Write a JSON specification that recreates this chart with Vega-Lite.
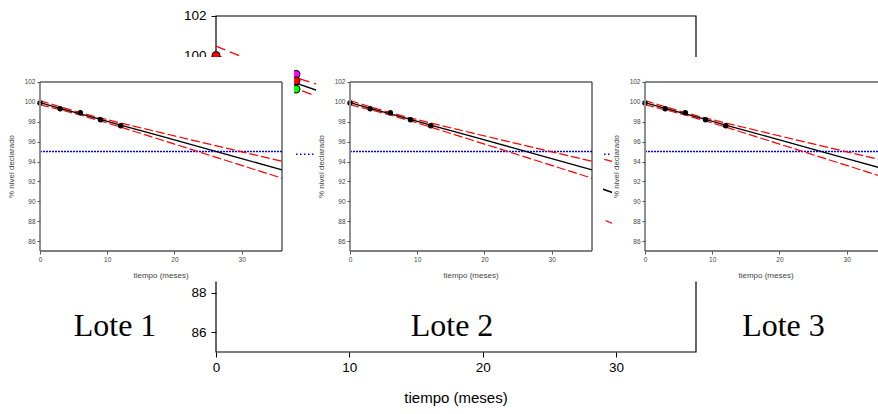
{
  "$schema": "https://vega.github.io/schema/vega-lite/v6.json",
  "width": 878,
  "height": 414,
  "padding": 0,
  "autosize": {"type": "none"},
  "background": "white",
  "config": {
    "view": {"stroke": null},
    "axis": {"grid": false, "domain": false, "labelFont": "Liberation Sans", "labelFlush": false, "labelOverlap": false},
    "text": {"font": "Liberation Sans"}
  },
  "datasets": {
    "pts": [
      {"t": 0, "v": 99.9}, {"t": 3, "v": 99.3}, {"t": 6, "v": 98.9}, {"t": 9, "v": 98.2}, {"t": 12, "v": 97.6}
    ],
    "fit": [
      {"t": 0, "fit": 99.92, "hi": 100.126, "lo": 99.714},
      {"t": 3, "fit": 99.358, "hi": 99.504, "lo": 99.212},
      {"t": 6, "fit": 98.795, "hi": 98.914, "lo": 98.676},
      {"t": 9, "fit": 98.233, "hi": 98.379, "lo": 98.087},
      {"t": 12, "fit": 97.67, "hi": 97.876, "lo": 97.464},
      {"t": 18, "fit": 96.545, "hi": 96.902, "lo": 96.188},
      {"t": 24, "fit": 95.42, "hi": 95.939, "lo": 94.901},
      {"t": 30, "fit": 94.295, "hi": 94.979, "lo": 93.611},
      {"t": 36, "fit": 93.17, "hi": 94.02, "lo": 92.32}
    ],
    "bgpts": [
      {"lote": "Lote 1", "t": 0, "v": 99.5}, {"lote": "Lote 1", "t": 3, "v": 99.4}, {"lote": "Lote 1", "t": 6, "v": 99.05}, {"lote": "Lote 1", "t": 9, "v": 98.1}, {"lote": "Lote 1", "t": 12, "v": 97.4},
      {"lote": "Lote 3", "t": 0, "v": 99.6}, {"lote": "Lote 3", "t": 3, "v": 99.1}, {"lote": "Lote 3", "t": 6, "v": 98.3}, {"lote": "Lote 3", "t": 9, "v": 97.6}, {"lote": "Lote 3", "t": 12, "v": 97.2},
      {"lote": "Lote 2", "t": 0, "v": 100.0}, {"lote": "Lote 2", "t": 3, "v": 99.2}, {"lote": "Lote 2", "t": 6, "v": 98.72}, {"lote": "Lote 2", "t": 9, "v": 98.0}, {"lote": "Lote 2", "t": 12, "v": 97.0}
    ],
    "bgfit": [
      {"t": 0, "fit": 100.0, "hi": 100.479, "lo": 99.522},
      {"t": 3, "fit": 99.301, "hi": 99.639, "lo": 98.963},
      {"t": 6, "fit": 98.602, "hi": 98.878, "lo": 98.326},
      {"t": 9, "fit": 97.903, "hi": 98.241, "lo": 97.565},
      {"t": 12, "fit": 97.204, "hi": 97.683, "lo": 96.726},
      {"t": 18, "fit": 95.806, "hi": 96.635, "lo": 94.977},
      {"t": 24, "fit": 94.408, "hi": 95.612, "lo": 93.204},
      {"t": 30, "fit": 93.01, "hi": 94.597, "lo": 91.423},
      {"t": 36, "fit": 91.612, "hi": 93.585, "lo": 89.639}
    ]
  },
  "layer": [
    {
      "layer": [
        {"data": {"values": [{}]}, "mark": {"type": "rect", "filled": false, "color": "#000", "strokeWidth": 1.2},
         "encoding": {"x": {"datum": 0, "type": "quantitative"}, "x2": {"datum": 36}, "y": {"datum": 102, "type": "quantitative"}, "y2": {"datum": 85}}},
        {"data": {"values": [{}]}, "mark": {"type": "rule", "color": "#0000ff", "strokeDash": [1.5, 2.5], "strokeWidth": 1.5},
         "encoding": {"x": {"datum": 0, "type": "quantitative"}, "x2": {"datum": 36}, "y": {"datum": 95, "type": "quantitative"}}},
        {"data": {"name": "bgfit"}, "mark": {"type": "line", "color": "#ff0000", "strokeDash": [10, 5], "strokeWidth": 1.3},
         "encoding": {"x": {"field": "t", "type": "quantitative"}, "y": {"field": "hi", "type": "quantitative"}}},
        {"data": {"name": "bgfit"}, "mark": {"type": "line", "color": "#ff0000", "strokeDash": [10, 5], "strokeWidth": 1.3},
         "encoding": {"x": {"field": "t", "type": "quantitative"}, "y": {"field": "lo", "type": "quantitative"}}},
        {"data": {"name": "bgfit"}, "mark": {"type": "line", "color": "#000", "strokeWidth": 1.5},
         "encoding": {"x": {"field": "t", "type": "quantitative"}, "y": {"field": "fit", "type": "quantitative"}}},
        {"data": {"name": "bgpts"}, "mark": {"type": "circle", "size": 64, "stroke": "#000", "strokeWidth": 1, "opacity": 1},
         "encoding": {
           "x": {"field": "t", "type": "quantitative", "scale": {"domain": [-16.2, 49.65], "nice": false, "zero": false},
                 "axis": {"orient": "bottom", "offset": -62, "values": [0, 10, 20, 30], "title": null, "tickSize": 5, "tickColor": "#000", "labelFontSize": 13.5, "labelColor": "#000", "labelPadding": 3, "zindex": 0}},
           "y": {"field": "v", "type": "quantitative", "scale": {"domain": [81.8631, 102.8095], "nice": false, "zero": false},
                 "axis": {"orient": "left", "offset": -216, "values": [86, 88, 90, 92, 94, 96, 98, 100, 102], "title": null, "tickSize": 5, "tickColor": "#000", "labelFontSize": 13.5, "labelColor": "#000", "labelPadding": 5, "zindex": 0}},
           "color": {"field": "lote", "type": "nominal", "sort": null, "scale": {"domain": ["Lote 1", "Lote 3", "Lote 2"], "range": ["#ff00ff", "#00ff00", "#ff0000"]}, "legend": null}}},
        {"data": {"values": [{}]}, "mark": {"type": "text", "text": "tiempo (meses)", "fontSize": 15, "color": "#000"},
         "encoding": {"x": {"datum": 18, "type": "quantitative"}, "y": {"datum": 82.673, "type": "quantitative"}}},
        {"data": {"values": [{}]}, "mark": {"type": "text", "text": "Lote 1", "font": "Liberation Serif", "fontSize": 32, "baseline": "alphabetic", "color": "#000"},
         "encoding": {"x": {"datum": -7.575, "type": "quantitative"}, "y": {"datum": 85.81, "type": "quantitative"}}},
        {"data": {"values": [{}]}, "mark": {"type": "text", "text": "Lote 2", "font": "Liberation Serif", "fontSize": 32, "baseline": "alphabetic", "color": "#000"},
         "encoding": {"x": {"datum": 17.7, "type": "quantitative"}, "y": {"datum": 85.81, "type": "quantitative"}}},
        {"data": {"values": [{}]}, "mark": {"type": "text", "text": "Lote 3", "font": "Liberation Serif", "fontSize": 32, "baseline": "alphabetic", "color": "#000"},
         "encoding": {"x": {"datum": 42.56, "type": "quantitative"}, "y": {"datum": 85.81, "type": "quantitative"}}}
      ]
    },
    {
      "layer": [
        {"data": {"values": [{}]}, "mark": {"type": "rect", "color": "white", "opacity": 1},
         "encoding": {"x": {"datum": -6, "type": "quantitative"}, "x2": {"datum": 37.8}, "y": {"datum": 104.515, "type": "quantitative"}, "y2": {"datum": 81.932}}},
        {"data": {"values": [{}]}, "mark": {"type": "rule", "color": "#0000ff", "strokeDash": [2, 1], "strokeWidth": 1.5},
         "encoding": {"x": {"datum": 0, "type": "quantitative"}, "x2": {"datum": 36}, "y": {"datum": 95, "type": "quantitative"}}},
        {"data": {"name": "fit"}, "mark": {"type": "line", "color": "#ff0000", "strokeDash": [9, 3], "strokeWidth": 1.2},
         "encoding": {"x": {"field": "t", "type": "quantitative"}, "y": {"field": "hi", "type": "quantitative"}}},
        {"data": {"name": "fit"}, "mark": {"type": "line", "color": "#ff0000", "strokeDash": [9, 3], "strokeWidth": 1.2},
         "encoding": {"x": {"field": "t", "type": "quantitative"}, "y": {"field": "lo", "type": "quantitative"}}},
        {"data": {"name": "fit"}, "mark": {"type": "line", "color": "#000", "strokeWidth": 1.3},
         "encoding": {"x": {"field": "t", "type": "quantitative"}, "y": {"field": "fit", "type": "quantitative"}}},
        {"data": {"name": "pts"}, "mark": {"type": "circle", "size": 30, "color": "#000", "opacity": 1},
         "encoding": {
           "x": {"field": "t", "type": "quantitative", "scale": {"domain": [-5.9504, 124.661], "nice": false, "zero": false},
                 "axis": {"orient": "bottom", "offset": -163, "values": [0, 10, 20, 30], "title": null, "tickSize": 3, "tickColor": "#555", "labelFontSize": 6.5, "labelColor": "#444", "labelPadding": 2, "zindex": 1}},
           "y": {"field": "v", "type": "quantitative", "scale": {"domain": [68.6036, 110.2485], "nice": false, "zero": false},
                 "axis": {"orient": "left", "offset": -40, "values": [86, 88, 90, 92, 94, 96, 98, 100, 102], "title": null, "tickSize": 3, "tickColor": "#555", "labelFontSize": 6.5, "labelColor": "#444", "labelPadding": 2, "zindex": 1}}}},
        {"data": {"values": [{}]}, "mark": {"type": "rule", "color": "#111", "strokeWidth": 1},
         "encoding": {"x": {"datum": 0, "type": "quantitative"}, "x2": {"datum": 36}, "y": {"datum": 102, "type": "quantitative"}}},
        {"data": {"values": [{}]}, "mark": {"type": "rule", "color": "#111", "strokeWidth": 1},
         "encoding": {"x": {"datum": 36, "type": "quantitative"}, "y": {"datum": 85, "type": "quantitative"}, "y2": {"datum": 102}}},
        {"data": {"values": [{}]}, "mark": {"type": "rule", "color": "#909090", "strokeWidth": 2},
         "encoding": {"x": {"datum": 0, "type": "quantitative"}, "y": {"datum": 85, "type": "quantitative"}, "y2": {"datum": 102}}},
        {"data": {"values": [{}]}, "mark": {"type": "rule", "color": "#555", "strokeWidth": 1.5},
         "encoding": {"x": {"datum": 0, "type": "quantitative"}, "x2": {"datum": 36}, "y": {"datum": 85, "type": "quantitative"}}},
        {"data": {"values": [{}]}, "mark": {"type": "text", "text": "tiempo (meses)", "fontSize": 8, "color": "#444"},
         "encoding": {"x": {"datum": 18, "type": "quantitative"}, "y": {"datum": 82.485, "type": "quantitative"}}},
        {"data": {"values": [{}]}, "mark": {"type": "text", "text": "% nivel declarado", "fontSize": 8, "angle": 270, "color": "#444"},
         "encoding": {"x": {"datum": -4.13, "type": "quantitative"}, "y": {"datum": 93.5, "type": "quantitative"}}}
      ]
    },
    {
      "layer": [
        {"data": {"values": [{}]}, "mark": {"type": "rect", "color": "white", "opacity": 1},
         "encoding": {"x": {"datum": -5.06, "type": "quantitative"}, "x2": {"datum": 37.64}, "y": {"datum": 104.515, "type": "quantitative"}, "y2": {"datum": 81.932}}},
        {"data": {"values": [{}]}, "mark": {"type": "rule", "color": "#0000ff", "strokeDash": [2, 1], "strokeWidth": 1.5},
         "encoding": {"x": {"datum": 0, "type": "quantitative"}, "x2": {"datum": 36}, "y": {"datum": 95, "type": "quantitative"}}},
        {"data": {"name": "fit"}, "mark": {"type": "line", "color": "#ff0000", "strokeDash": [9, 3], "strokeWidth": 1.2},
         "encoding": {"x": {"field": "t", "type": "quantitative"}, "y": {"field": "hi", "type": "quantitative"}}},
        {"data": {"name": "fit"}, "mark": {"type": "line", "color": "#ff0000", "strokeDash": [9, 3], "strokeWidth": 1.2},
         "encoding": {"x": {"field": "t", "type": "quantitative"}, "y": {"field": "lo", "type": "quantitative"}}},
        {"data": {"name": "fit"}, "mark": {"type": "line", "color": "#000", "strokeWidth": 1.3},
         "encoding": {"x": {"field": "t", "type": "quantitative"}, "y": {"field": "fit", "type": "quantitative"}}},
        {"data": {"name": "pts"}, "mark": {"type": "circle", "size": 30, "color": "#000", "opacity": 1},
         "encoding": {
           "x": {"field": "t", "type": "quantitative", "scale": {"domain": [-52.066, 78.5454], "nice": false, "zero": false},
                 "axis": {"orient": "bottom", "offset": -163, "values": [0, 10, 20, 30], "title": null, "tickSize": 3, "tickColor": "#555", "labelFontSize": 6.5, "labelColor": "#444", "labelPadding": 2, "zindex": 1}},
           "y": {"field": "v", "type": "quantitative", "scale": {"domain": [68.6036, 110.2485], "nice": false, "zero": false},
                 "axis": {"orient": "left", "offset": -350, "values": [86, 88, 90, 92, 94, 96, 98, 100, 102], "title": null, "tickSize": 3, "tickColor": "#555", "labelFontSize": 6.5, "labelColor": "#444", "labelPadding": 2, "zindex": 1}}}},
        {"data": {"values": [{}]}, "mark": {"type": "rule", "color": "#111", "strokeWidth": 1},
         "encoding": {"x": {"datum": 0, "type": "quantitative"}, "x2": {"datum": 36}, "y": {"datum": 102, "type": "quantitative"}}},
        {"data": {"values": [{}]}, "mark": {"type": "rule", "color": "#111", "strokeWidth": 1},
         "encoding": {"x": {"datum": 36, "type": "quantitative"}, "y": {"datum": 85, "type": "quantitative"}, "y2": {"datum": 102}}},
        {"data": {"values": [{}]}, "mark": {"type": "rule", "color": "#909090", "strokeWidth": 2},
         "encoding": {"x": {"datum": 0, "type": "quantitative"}, "y": {"datum": 85, "type": "quantitative"}, "y2": {"datum": 102}}},
        {"data": {"values": [{}]}, "mark": {"type": "rule", "color": "#555", "strokeWidth": 1.5},
         "encoding": {"x": {"datum": 0, "type": "quantitative"}, "x2": {"datum": 36}, "y": {"datum": 85, "type": "quantitative"}}},
        {"data": {"values": [{}]}, "mark": {"type": "text", "text": "tiempo (meses)", "fontSize": 8, "color": "#444"},
         "encoding": {"x": {"datum": 18, "type": "quantitative"}, "y": {"datum": 82.485, "type": "quantitative"}}},
        {"data": {"values": [{}]}, "mark": {"type": "text", "text": "% nivel declarado", "fontSize": 8, "angle": 270, "color": "#444"},
         "encoding": {"x": {"datum": -4.13, "type": "quantitative"}, "y": {"datum": 93.5, "type": "quantitative"}}}
      ]
    },
    {
      "layer": [
        {"data": {"values": [{}]}, "mark": {"type": "rect", "color": "white", "opacity": 1},
         "encoding": {"x": {"datum": -4.91, "type": "quantitative"}, "x2": {"datum": 40}, "y": {"datum": 104.515, "type": "quantitative"}, "y2": {"datum": 81.932}}},
        {"data": {"values": [{}]}, "mark": {"type": "rule", "color": "#0000ff", "strokeDash": [2, 1], "strokeWidth": 1.5},
         "encoding": {"x": {"datum": 0, "type": "quantitative"}, "x2": {"datum": 36}, "y": {"datum": 95, "type": "quantitative"}}},
        {"data": {"name": "fit"}, "mark": {"type": "line", "color": "#ff0000", "strokeDash": [9, 3], "strokeWidth": 1.2},
         "encoding": {"x": {"field": "t", "type": "quantitative"}, "y": {"field": "hi", "type": "quantitative"}}},
        {"data": {"name": "fit"}, "mark": {"type": "line", "color": "#ff0000", "strokeDash": [9, 3], "strokeWidth": 1.2},
         "encoding": {"x": {"field": "t", "type": "quantitative"}, "y": {"field": "lo", "type": "quantitative"}}},
        {"data": {"name": "fit"}, "mark": {"type": "line", "color": "#000", "strokeWidth": 1.3},
         "encoding": {"x": {"field": "t", "type": "quantitative"}, "y": {"field": "fit", "type": "quantitative"}}},
        {"data": {"name": "pts"}, "mark": {"type": "circle", "size": 30, "color": "#000", "opacity": 1},
         "encoding": {
           "x": {"field": "t", "type": "quantitative", "scale": {"domain": [-95.951, 34.6604], "nice": false, "zero": false},
                 "axis": {"orient": "bottom", "offset": -163, "values": [0, 10, 20, 30], "title": null, "tickSize": 3, "tickColor": "#555", "labelFontSize": 6.5, "labelColor": "#444", "labelPadding": 2, "zindex": 1}},
           "y": {"field": "v", "type": "quantitative", "scale": {"domain": [68.6036, 110.2485], "nice": false, "zero": false},
                 "axis": {"orient": "left", "offset": -645, "values": [86, 88, 90, 92, 94, 96, 98, 100, 102], "title": null, "tickSize": 3, "tickColor": "#555", "labelFontSize": 6.5, "labelColor": "#444", "labelPadding": 2, "zindex": 1}}}},
        {"data": {"values": [{}]}, "mark": {"type": "rule", "color": "#111", "strokeWidth": 1},
         "encoding": {"x": {"datum": 0, "type": "quantitative"}, "x2": {"datum": 36}, "y": {"datum": 102, "type": "quantitative"}}},
        {"data": {"values": [{}]}, "mark": {"type": "rule", "color": "#909090", "strokeWidth": 2},
         "encoding": {"x": {"datum": 0, "type": "quantitative"}, "y": {"datum": 85, "type": "quantitative"}, "y2": {"datum": 102}}},
        {"data": {"values": [{}]}, "mark": {"type": "rule", "color": "#555", "strokeWidth": 1.5},
         "encoding": {"x": {"datum": 0, "type": "quantitative"}, "x2": {"datum": 36}, "y": {"datum": 85, "type": "quantitative"}}},
        {"data": {"values": [{}]}, "mark": {"type": "text", "text": "tiempo (meses)", "fontSize": 8, "color": "#444"},
         "encoding": {"x": {"datum": 18, "type": "quantitative"}, "y": {"datum": 82.485, "type": "quantitative"}}},
        {"data": {"values": [{}]}, "mark": {"type": "text", "text": "% nivel declarado", "fontSize": 8, "angle": 270, "color": "#444"},
         "encoding": {"x": {"datum": -4.13, "type": "quantitative"}, "y": {"datum": 93.5, "type": "quantitative"}}}
      ]
    }
  ],
  "resolve": {"scale": {"x": "independent", "y": "independent"}}
}
